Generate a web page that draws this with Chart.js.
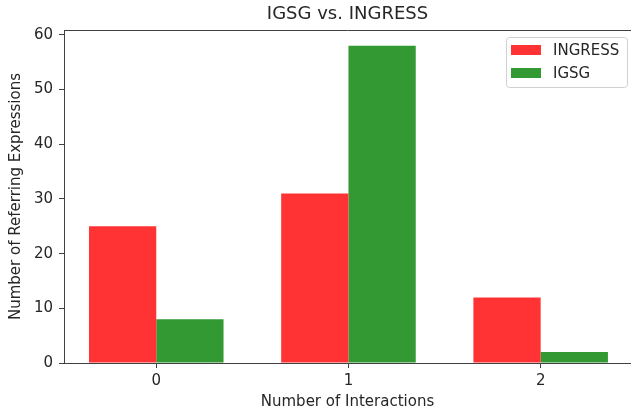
<!DOCTYPE html>
<html>
<head>
<meta charset="utf-8">
<script src="https://cdn.jsdelivr.net/npm/chart.js@4"></script>
<style>
  body { margin: 0; background: #fff; }
  canvas { display: block; }
</style>
</head>
<body>
<canvas id="chart" width="631" height="413"></canvas>
<script>
const interactions = [0, 1, 2];
const ingressCounts = [25, 31, 12];
const igsgCounts = [8, 58, 2];
const seriesNames = ["INGRESS", "IGSG"];
const seriesColors = ["#ff3333", "#339933"];

const fontFamily = "'DejaVu Sans', sans-serif";
const textColor = "#262626";
const axisColor = "#404040";

// top frame line, like matplotlib's top spine
const topSpine = {
  id: "topSpine",
  afterDraw(chart) {
    const { ctx, chartArea } = chart;
    ctx.save();
    ctx.strokeStyle = axisColor;
    ctx.lineWidth = 1;
    ctx.beginPath();
    ctx.moveTo(chartArea.left, chartArea.top + 0.5);
    ctx.lineTo(chartArea.right, chartArea.top + 0.5);
    ctx.stroke();
    ctx.restore();
  },
};

// legend box inside the plot, upper right
const boxLegend = {
  id: "boxLegend",
  afterDraw(chart) {
    const { ctx, chartArea } = chart;
    const w = 121, h = 50;
    const x = chartArea.right - 4 - w;
    const y = chartArea.top + 7;
    ctx.save();
    ctx.fillStyle = "rgba(255,255,255,0.8)";
    ctx.strokeStyle = "#d0d0d0";
    ctx.lineWidth = 1;
    ctx.beginPath();
    ctx.roundRect(x + 0.5, y + 0.5, w, h, 3);
    ctx.fill();
    ctx.stroke();
    ctx.font = "15px " + fontFamily;
    ctx.textBaseline = "middle";
    chart.data.datasets.forEach((ds, i) => {
      const rowY = y + 13 + i * 23;
      ctx.fillStyle = ds.backgroundColor;
      ctx.fillRect(x + 5, rowY - 5, 30, 10);
      ctx.fillStyle = textColor;
      ctx.fillText(ds.label, x + 47, rowY + 1);
    });
    ctx.restore();
  },
};

const ctx = document.getElementById("chart").getContext("2d");

new Chart(ctx, {
  type: "bar",
  data: {
    datasets: [
      {
        label: seriesNames[0],
        data: interactions.map((x, i) => ({ x: x, y: ingressCounts[i] })),
        backgroundColor: seriesColors[0],
        categoryPercentage: 0.7,
        barPercentage: 1.0,
      },
      {
        label: seriesNames[1],
        data: interactions.map((x, i) => ({ x: x, y: igsgCounts[i] })),
        backgroundColor: seriesColors[1],
        categoryPercentage: 0.7,
        barPercentage: 1.0,
      },
    ],
  },
  options: {
    responsive: false,
    animation: false,
    devicePixelRatio: 1,
    layout: { padding: 0 },
    scales: {
      x: {
        type: "linear",
        min: -0.48,
        max: 2.47,
        offset: false,
        afterBuildTicks: (scale) => {
          scale.ticks = interactions.map((v) => ({ value: v }));
        },
        afterFit: (scale) => {
          scale.height = 50;
        },
        grid: {
          offset: false,
          drawOnChartArea: false,
          tickLength: 5,
          tickColor: axisColor,
        },
        border: { color: axisColor, width: 1 },
        ticks: {
          padding: 4,
          color: textColor,
          font: { family: fontFamily, size: 15 },
          callback: (v) => String(v),
        },
        title: {
          display: true,
          text: "Number of Interactions",
          color: textColor,
          font: { family: fontFamily, size: 15 },
          padding: { top: 0, bottom: 2 },
        },
      },
      y: {
        min: 0,
        max: 60.9,
        afterFit: (scale) => {
          scale.width = 64;
        },
        grid: {
          drawOnChartArea: false,
          tickLength: 5,
          tickColor: axisColor,
        },
        border: { color: axisColor, width: 1 },
        ticks: {
          stepSize: 10,
          includeBounds: false,
          padding: 6,
          color: textColor,
          font: { family: fontFamily, size: 15 },
        },
        title: {
          display: true,
          text: "Number of Referring Expressions",
          color: textColor,
          font: { family: fontFamily, size: 15 },
          padding: { top: 7.5, bottom: 0 },
        },
      },
    },
    plugins: {
      legend: { display: false },
      tooltip: { enabled: false },
      title: {
        display: true,
        fullSize: false,
        text: "IGSG vs. INGRESS",
        color: textColor,
        font: { family: fontFamily, size: 18, weight: "normal" },
        padding: { top: 4, bottom: 4.4 },
      },
    },
  },
  plugins: [topSpine, boxLegend],
});
</script>
</body>
</html>
